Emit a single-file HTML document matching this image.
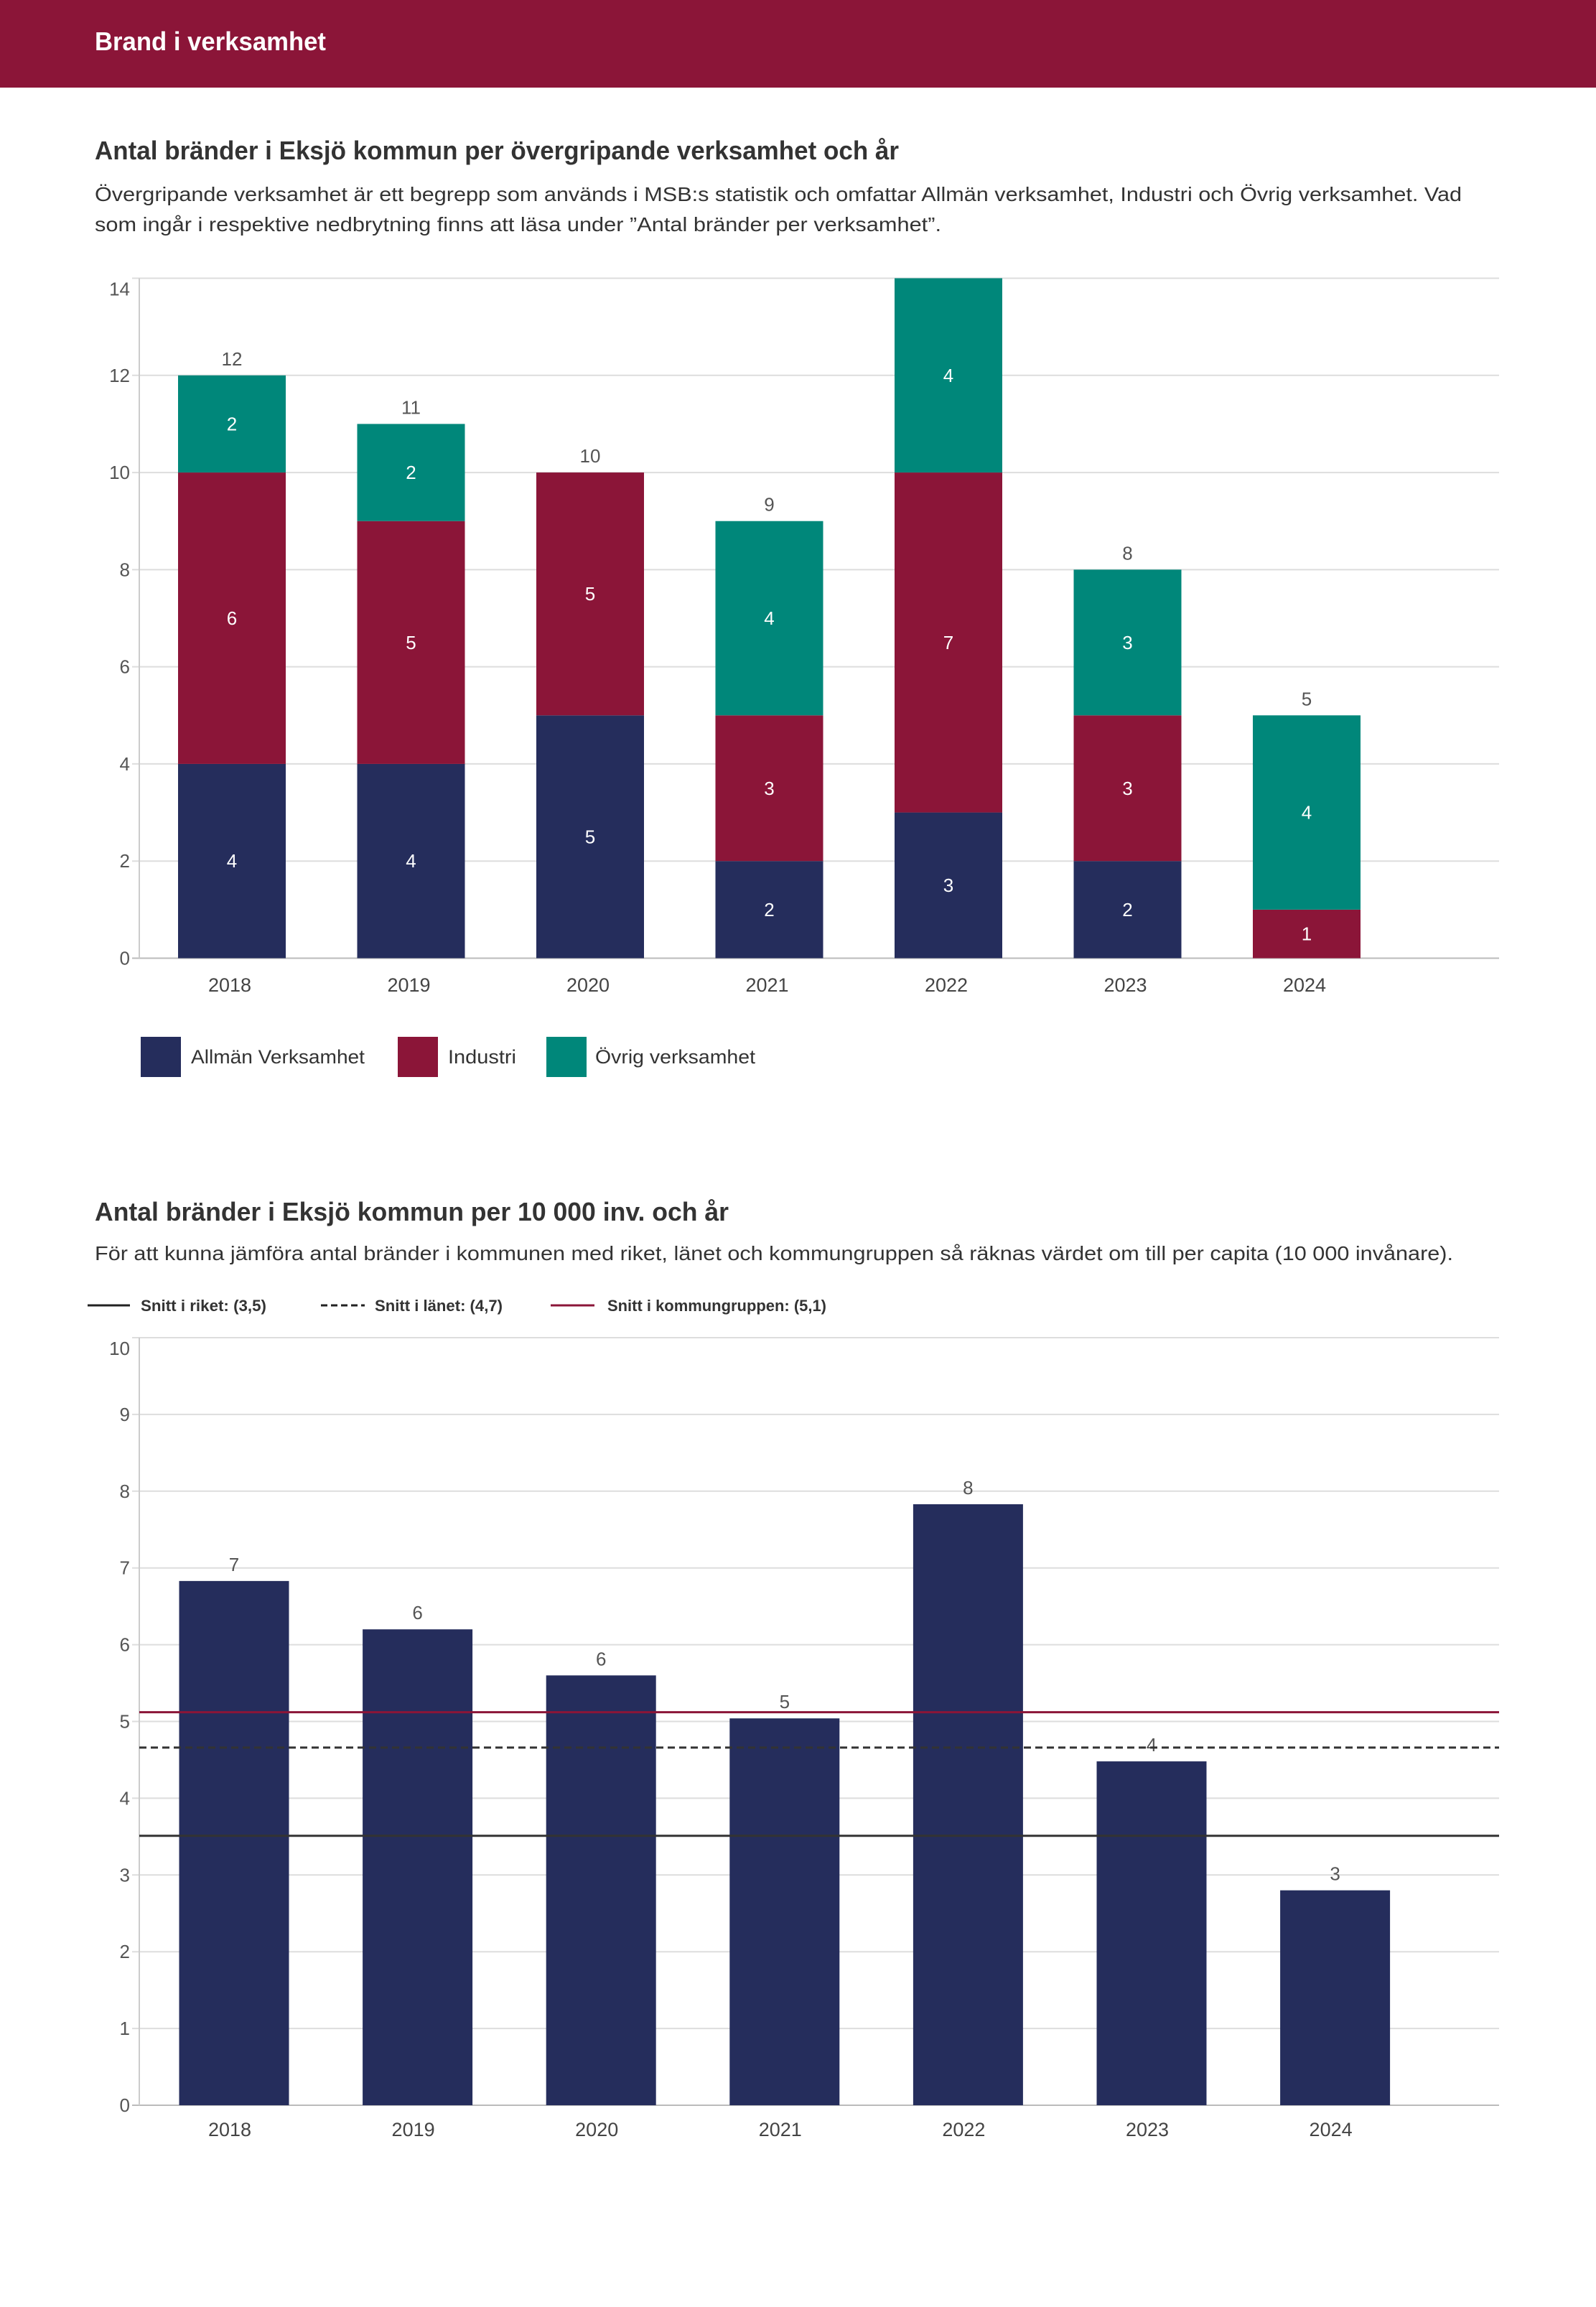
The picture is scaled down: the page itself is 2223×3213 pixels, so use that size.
<!DOCTYPE html>
<html><head><meta charset="utf-8">
<style>
html,body{margin:0;padding:0;background:#fff;}
svg{display:block;font-family:"Liberation Sans",sans-serif;}
</style></head>
<body>
<svg id="page" width="2223" height="3213" viewBox="0 0 2223 3213" xmlns="http://www.w3.org/2000/svg">
<rect x="0" y="0" width="2223" height="122" fill="#8b1538"/>
<text x="132" y="70" font-size="36" font-weight="bold" fill="#fff" textLength="322" lengthAdjust="spacingAndGlyphs">Brand i verksamhet</text>

<text x="132" y="222" font-size="36" font-weight="bold" fill="#333" textLength="1120" lengthAdjust="spacingAndGlyphs">Antal bränder i Eksjö kommun per övergripande verksamhet och år</text>
<text x="132" y="280" font-size="28" fill="#333" textLength="1904" lengthAdjust="spacingAndGlyphs">Övergripande verksamhet är ett begrepp som används i MSB:s statistik och omfattar Allmän verksamhet, Industri och Övrig verksamhet. Vad</text>
<text x="132" y="322" font-size="28" fill="#333" textLength="1179" lengthAdjust="spacingAndGlyphs">som ingår i respektive nedbrytning finns att läsa under ”Antal bränder per verksamhet”.</text>
<g id="chart1"></g>

<g>
<rect x="196" y="1444" width="56" height="56" fill="#252d5c"/>
<text x="266" y="1481" font-size="27" fill="#333" textLength="242" lengthAdjust="spacingAndGlyphs">Allmän Verksamhet</text>
<rect x="554" y="1444" width="56" height="56" fill="#8b1538"/>
<text x="624" y="1481" font-size="27" fill="#333" textLength="95" lengthAdjust="spacingAndGlyphs">Industri</text>
<rect x="761" y="1444" width="56" height="56" fill="#00877a"/>
<text x="829" y="1481" font-size="27" fill="#333" textLength="223" lengthAdjust="spacingAndGlyphs">Övrig verksamhet</text>
</g>

<text x="132" y="1700" font-size="36" font-weight="bold" fill="#333" textLength="883" lengthAdjust="spacingAndGlyphs">Antal bränder i Eksjö kommun per 10 000 inv. och år</text>
<text x="132" y="1755" font-size="28" fill="#333" textLength="1892" lengthAdjust="spacingAndGlyphs">För att kunna jämföra antal bränder i kommunen med riket, länet och kommungruppen så räknas värdet om till per capita (10 000 invånare).</text>
<g>
<line x1="122" y1="1818" x2="181" y2="1818" stroke="#222" stroke-width="3"/>
<text x="196" y="1826" font-size="22" font-weight="bold" fill="#333" textLength="175" lengthAdjust="spacingAndGlyphs">Snitt i riket: (3,5)</text>
<line x1="447" y1="1818" x2="508" y2="1818" stroke="#222" stroke-width="3" stroke-dasharray="9,5"/>
<text x="522" y="1826" font-size="22" font-weight="bold" fill="#333" textLength="178" lengthAdjust="spacingAndGlyphs">Snitt i länet: (4,7)</text>
<line x1="767" y1="1818" x2="828" y2="1818" stroke="#8b1538" stroke-width="3"/>
<text x="846" y="1826" font-size="22" font-weight="bold" fill="#333" textLength="305" lengthAdjust="spacingAndGlyphs">Snitt i kommungruppen: (5,1)</text>
</g>
<g id="chart2"></g>
</svg>
<script>
const years = ["2018","2019","2020","2021","2022","2023","2024"];
const allman = [4,4,5,2,3,2,0];
const industri = [6,5,5,3,7,3,1];
const ovrig = [2,2,0,4,4,3,4];
const ticks1 = [0,2,4,6,8,10,12,14];
const perCapita = [6.83,6.2,5.6,5.04,7.83,4.48,2.8];
const perCapitaLabels = ["7","6","6","5","8","4","3"];
const ticks2 = [0,1,2,3,4,5,6,7,8,9,10];
const avgRiket = 3.51;
const avgLanet = 4.66;
const avgKommungrupp = 5.12;

const NS = "http://www.w3.org/2000/svg";
function mk(parent, tag, attrs, text){
  const e = document.createElementNS(NS, tag);
  for (const k in attrs) e.setAttribute(k, attrs[k]);
  if (text !== undefined) e.textContent = text;
  parent.appendChild(e);
  return e;
}
const L = 194, R = 2088;

// chart 1
(function(){
  const g = document.getElementById('chart1');
  const y0 = 1334.5, yTop = 387.5, max = 14;
  const y = v => y0 - (y0 - yTop) * v / max;
  const xc = i => 323 + i * 249.5;
  const bw = 150;
  ticks1.forEach(t => {
    const ln = mk(g, 'line', {x1: L - 10, x2: R, y1: y(t), y2: y(t), stroke: t === 0 ? '#bbb' : '#ddd', 'stroke-width': 2});
    
    
    const off = t === max ? 24 : 9;
    const tx = mk(g, 'text', {x: 181, y: y(t) + off, 'text-anchor': 'end', 'font-size': 26, fill: '#555'}, String(t));
    
    
  });
  const ax = mk(g, 'line', {x1: L, x2: L, y1: yTop, y2: y0, stroke: '#ccc', 'stroke-width': 2});
  
  
  const series = [[allman, '#252d5c', 'allman'], [industri, '#8b1538', 'industri'], [ovrig, '#00877a', 'ovrig']];
  years.forEach((yr, i) => {
    let base = 0;
    series.forEach(([arr, col, nm]) => {
      const v = arr[i];
      if (v > 0) {
        const r = mk(g, 'rect', {x: xc(i) - bw / 2, y: y(base + v), width: bw, height: y(base) - y(base + v), fill: col});
        
        
        const t = mk(g, 'text', {x: xc(i), y: (y(base) + y(base + v)) / 2 + 9, 'text-anchor': 'middle', 'font-size': 26, fill: '#fff'}, String(v));
        
        
      }
      base += v;
    });
    if (base < max) {
      const tot = mk(g, 'text', {x: xc(i), y: y(base) - 14, 'text-anchor': 'middle', 'font-size': 26, fill: '#555'}, String(base));
      
      
    }
    const xl = mk(g, 'text', {x: xc(i) - 3, y: 1381, 'text-anchor': 'middle', 'font-size': 27, fill: '#444'}, yr);
    
    
  });
})();

// chart 2
(function(){
  const g = document.getElementById('chart2');
  const y0 = 2932, yTop = 1863, max = 10;
  const y = v => y0 - (y0 - yTop) * v / max;
  const xc = i => 326 + i * 255.6;
  const bw = 153;
  ticks2.forEach(t => {
    const ln = mk(g, 'line', {x1: L - 10, x2: R, y1: y(t), y2: y(t), stroke: t === 0 ? '#bbb' : '#ddd', 'stroke-width': 2});
    
    
    const off = t === max ? 24 : 9;
    const tx = mk(g, 'text', {x: 181, y: y(t) + off, 'text-anchor': 'end', 'font-size': 26, fill: '#555'}, String(t));
    
    
  });
  const ax = mk(g, 'line', {x1: L, x2: L, y1: yTop, y2: y0, stroke: '#ccc', 'stroke-width': 2});
  
  
  years.forEach((yr, i) => {
    const v = perCapita[i];
    const r = mk(g, 'rect', {x: xc(i) - bw / 2, y: y(v), width: bw, height: y0 - y(v), fill: '#252d5c'});
    
    
    const t = mk(g, 'text', {x: xc(i), y: y(v) - 14, 'text-anchor': 'middle', 'font-size': 26, fill: '#555'}, perCapitaLabels[i]);
    
    
    const xl = mk(g, 'text', {x: xc(i) - 6, y: 2975, 'text-anchor': 'middle', 'font-size': 27, fill: '#444'}, yr);
    
    
  });
  const l1 = mk(g, 'line', {x1: L, x2: R, y1: y(avgRiket), y2: y(avgRiket), stroke: '#333', 'stroke-width': 3});
  
  
  const l2 = mk(g, 'line', {x1: L, x2: R, y1: y(avgLanet), y2: y(avgLanet), stroke: '#333', 'stroke-width': 3, 'stroke-dasharray': '10,6'});
  
  
  const l3 = mk(g, 'line', {x1: L, x2: R, y1: y(avgKommungrupp), y2: y(avgKommungrupp), stroke: '#8b1538', 'stroke-width': 3});
  
  
})();
</script>
</body></html>
